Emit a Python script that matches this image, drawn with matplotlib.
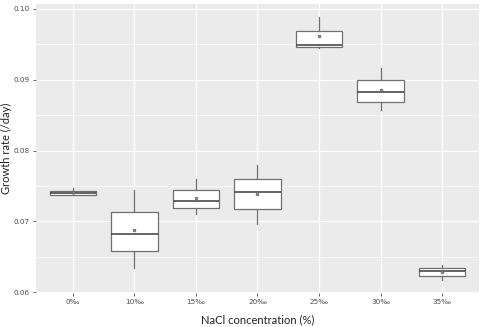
import matplotlib.pyplot as plt
from matplotlib.ticker import MultipleLocator

# growth rate summary per NaCl concentration
labels = ['0‰', '10‰', '15‰', '20‰', '25‰', '30‰', '35‰']
whislo = [0.07384, 0.06340, 0.07110, 0.06969, 0.09448, 0.08574, 0.06180]
q1 = [0.07380, 0.06576, 0.07195, 0.07181, 0.09466, 0.08691, 0.06237]
med = [0.07402, 0.06827, 0.07285, 0.07412, 0.09494, 0.08824, 0.06307]
q3 = [0.07435, 0.07139, 0.07441, 0.07601, 0.09693, 0.08994, 0.06350]
whishi = [0.07469, 0.07450, 0.07606, 0.07795, 0.09891, 0.09173, 0.06388]
means = [0.07415, 0.06874, 0.07337, 0.07388, 0.09618, 0.08857, 0.06293]

stats = []
for i in range(len(labels)):
    stats.append(dict(label=labels[i], whislo=whislo[i], q1=q1[i], med=med[i],
                      q3=q3[i], whishi=whishi[i], mean=means[i], fliers=[]))

plt.rcParams['font.family'] = ['DejaVu Sans']
fig = plt.figure(figsize=(4.85, 3.27), dpi=100)
ax = fig.add_axes([36 / 485, 1 - 293 / 327, 443 / 485, 289 / 327])
ax.set_facecolor('#EBEBEB')

edge = '#707070'
ax.bxp(stats, positions=range(1, 8), widths=0.75, showmeans=True, showcaps=False,
       patch_artist=True,
       boxprops=dict(facecolor='white', edgecolor=edge, linewidth=0.9),
       medianprops=dict(color='#4A4A4A', linewidth=1.2),
       whiskerprops=dict(color=edge, linewidth=0.9),
       meanprops=dict(marker='o', markersize=2.0, markerfacecolor='#888888',
                      markeredgecolor='#666666', markeredgewidth=0.5),
       zorder=3)

ax.set_xlim(0.4, 7.6)
ax.set_ylim(0.0599, 0.1007)
ax.yaxis.set_major_locator(MultipleLocator(0.01))
ax.yaxis.set_minor_locator(MultipleLocator(0.005))
ax.set_yticklabels([f'{v:.2f}' for v in ax.get_yticks()])
ax.set_xticks(range(1, 8))
ax.set_xticklabels(labels)

ax.grid(which='major', color='white', linewidth=0.9, zorder=0)
ax.grid(which='minor', axis='y', color='white', linewidth=0.45, zorder=0)
ax.set_axisbelow(True)
for s in ax.spines.values():
    s.set_visible(False)
ax.tick_params(which='major', length=2.5, width=0.6, color='#555555',
               labelsize=5.2, labelcolor='#4D4D4D', pad=2)
ax.tick_params(which='minor', length=0)

ax.set_xlabel('NaCl concentration (%)', family='Lato', fontsize=8, color='#222222')
ax.set_ylabel('Growth rate (/day)', family='Lato', fontsize=8, color='#222222')
ax.xaxis.set_label_coords(0.5, -0.075)
ax.yaxis.set_label_coords(-0.054, 0.5)

fig.savefig('out.png', dpi=100)
